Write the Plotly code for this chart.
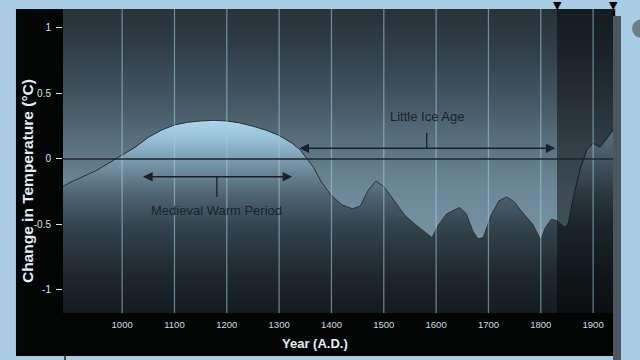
import plotly.graph_objects as go

# ---------------- data ----------------
YEARS = [887, 900, 950, 1000, 1025, 1050, 1075, 1100, 1125, 1150, 1175, 1200,
         1225, 1250, 1275, 1300, 1325, 1340, 1350, 1365, 1380, 1400, 1420,
         1440, 1455, 1470, 1485, 1500, 1520, 1540, 1560, 1580, 1592, 1605,
         1620, 1645, 1658, 1670, 1680, 1690, 1705, 1720, 1735, 1750, 1765,
         1785, 1800, 1808, 1820, 1830, 1845, 1852, 1862, 1875, 1888, 1900,
         1913, 1925, 1938]
TEMP_CHANGE = [-0.21, -0.18, -0.09, 0.03, 0.09, 0.165, 0.22, 0.26, 0.28, 0.29,
               0.295, 0.29, 0.275, 0.25, 0.22, 0.18, 0.12, 0.07, 0.02, -0.06,
               -0.17, -0.28, -0.35, -0.38, -0.36, -0.24, -0.17, -0.21, -0.32,
               -0.43, -0.50, -0.56, -0.60, -0.50, -0.42, -0.37, -0.42, -0.55,
               -0.61, -0.60, -0.43, -0.32, -0.29, -0.33, -0.41, -0.50, -0.62,
               -0.53, -0.46, -0.47, -0.52, -0.50, -0.30, -0.08, 0.07, 0.12,
               0.09, 0.15, 0.22]
X_TICKS = [1000, 1100, 1200, 1300, 1400, 1500, 1600, 1700, 1800, 1900]
X_TICK_TEXT = ["1000", "1100", "1200", "1300", "1400", "1500", "1600", "1700", "1800", "1900"]
Y_TICKS = [1, 0.5, 0, -0.5, -1]
Y_TICK_TEXT = ["1", "0.5", "0", "-0.5", "-1"]
MWP_SPAN = [1037, 1325]          # Medieval Warm Period
LIA_SPAN = [1336, 1828]          # Little Ice Age
INSTRUMENTAL_BAND = [1831, 1938]
X_RANGE = [887, 1938]
Y_RANGE = [-1.176, 1.145]

# ---------------- figure ----------------
fig = go.Figure()
n = len(YEARS)

fig.add_trace(go.Scatter(x=YEARS, y=[Y_RANGE[0]] * n, mode="lines",
                         line=dict(width=0, color="rgba(0,0,0,0)"),
                         hoverinfo="skip", showlegend=False))
fig.add_trace(go.Scatter(
    x=YEARS, y=TEMP_CHANGE, mode="lines", fill="tonexty",
    line=dict(width=1, color="#2a363e"),
    fillgradient=dict(type="vertical", start=Y_RANGE[0], stop=0.31,
                      colorscale=[[0.0, "#151b1f"], [0.2, "#1f282e"],
                                  [0.45, "#34444e"], [0.6, "#4c626f"],
                                  [0.78, "#7899ac"], [0.9, "#98c2d8"],
                                  [1.0, "#afd8ef"]]),
    hoverinfo="skip", showlegend=False))
fig.add_trace(go.Scatter(
    x=YEARS, y=[Y_RANGE[1]] * n, mode="lines", fill="tonexty",
    line=dict(width=0, color="rgba(0,0,0,0)"),
    fillgradient=dict(type="vertical", start=-0.7, stop=Y_RANGE[1],
                      colorscale=[[0.0, "#7a96a6"], [0.25, "#6c8898"],
                                  [0.45, "#58707e"], [0.65, "#40535e"],
                                  [0.85, "#2f3d46"], [1.0, "#273239"]]),
    hoverinfo="skip", showlegend=False))

shapes = []
# black panel around the plot
shapes.append(dict(type="rect", xref="paper", yref="paper", x0=-0.0855, x1=1.004,
                   y0=-0.1414, y1=1.0, fillcolor="#030505", line=dict(width=0),
                   layer="below"))
# grey strip on the right
shapes.append(dict(type="rect", xref="paper", yref="paper", x0=1.0, x1=1.0145,
                   y0=-0.155, y1=0.977, fillcolor="#4a5660", line=dict(width=0),
                   layer="below"))
# grey blob at far right
shapes.append(dict(type="circle", xref="paper", yref="paper", x0=1.0345, x1=1.07,
                   y0=0.905, y1=0.966, fillcolor="#6e7e88", line=dict(width=0),
                   layer="below"))
# dark instrumental band
shapes.append(dict(type="rect", xref="x", yref="paper", x0=INSTRUMENTAL_BAND[0],
                   x1=INSTRUMENTAL_BAND[1], y0=0, y1=1, fillcolor="black",
                   opacity=0.45, line=dict(width=0), layer="above"))
# vertical grid lines
for xv in X_TICKS:
    shapes.append(dict(type="line", xref="x", yref="paper", x0=xv, x1=xv, y0=0, y1=1,
                       line=dict(color="rgba(160,205,230,0.55)", width=1.3),
                       layer="above"))
# zero line
shapes.append(dict(type="line", xref="paper", yref="y", x0=0, x1=1, y0=0, y1=0,
                   line=dict(color="#1c262c", width=1.5), layer="above"))
# vertical ticks of the period arrows
mwp_mid = (MWP_SPAN[0] + MWP_SPAN[1]) / 2
lia_mid = (LIA_SPAN[0] + LIA_SPAN[1]) / 2
shapes.append(dict(type="line", xref="x", yref="y", x0=mwp_mid, x1=mwp_mid,
                   y0=-0.136, y1=-0.29, line=dict(color="#1a2228", width=1.3),
                   layer="above"))
shapes.append(dict(type="line", xref="x", yref="y", x0=lia_mid, x1=lia_mid,
                   y0=0.082, y1=0.2, line=dict(color="#1a2228", width=1.3),
                   layer="above"))
# small mark at bottom-left
shapes.append(dict(type="line", xref="paper", yref="paper", x0=0.0036, x1=0.0036,
                   y0=-0.138, y1=-0.155, line=dict(color="#222", width=1.5)))

annotations = []
# double-headed arrows
annotations.append(dict(x=MWP_SPAN[1], y=-0.136, ax=MWP_SPAN[0], ay=-0.136,
                        xref="x", yref="y", axref="x", ayref="y", text="",
                        showarrow=True, arrowhead=2, arrowside="end+start",
                        arrowsize=1.2, arrowwidth=1.6, arrowcolor="#1a2228"))
annotations.append(dict(x=LIA_SPAN[1], y=0.082, ax=LIA_SPAN[0], ay=0.082,
                        xref="x", yref="y", axref="x", ayref="y", text="",
                        showarrow=True, arrowhead=2, arrowside="end+start",
                        arrowsize=1.2, arrowwidth=1.6, arrowcolor="#1a2228"))
annotations.append(dict(x=mwp_mid, y=-0.39, xref="x", yref="y",
                        text="Medieval Warm Period", showarrow=False,
                        xanchor="center", yanchor="middle",
                        font=dict(family="Liberation Sans, Arial", size=13, color="#1a2228")))
annotations.append(dict(x=lia_mid, y=0.325, xref="x", yref="y",
                        text="Little Ice Age", showarrow=False,
                        xanchor="center", yanchor="middle",
                        font=dict(family="Liberation Sans, Arial", size=13, color="#1a2228")))
# axis titles
annotations.append(dict(x=-0.0655, y=0.434, xref="paper", yref="paper",
                        xanchor="center", yanchor="middle",
                        text="<b>Change in Temperature (°C)</b>", textangle=-90,
                        showarrow=False,
                        font=dict(family="Liberation Sans, Arial", size=15.5, color="#e4eef4")))
annotations.append(dict(x=0.458, y=-0.0987, xref="paper", yref="paper",
                        xanchor="center", yanchor="middle",
                        text="<b>Year (A.D.)</b>", showarrow=False,
                        font=dict(family="Liberation Sans, Arial", size=13, color="#e4eef4")))
# markers at band edges on top
for xv in INSTRUMENTAL_BAND:
    annotations.append(dict(x=xv, y=1.0, xref="x", yref="paper", yanchor="bottom",
                            yshift=-5, text="▼", showarrow=False,
                            font=dict(family="DejaVu Sans", size=11, color="black")))

fig.update_layout(
    width=640, height=360,
    margin=dict(l=63, r=27, t=9, b=47),
    paper_bgcolor="#a8cde4",
    plot_bgcolor="#3e515c",
    showlegend=False,
    shapes=shapes,
    annotations=annotations,
    xaxis=dict(range=X_RANGE, tickvals=X_TICKS, ticktext=X_TICK_TEXT,
               showgrid=False, zeroline=False, showline=False, ticks="",
               ticklabelstandoff=4,
               tickfont=dict(family="Liberation Sans, Arial", size=9.5, color="#cfdce4")),
    yaxis=dict(range=Y_RANGE, tickvals=Y_TICKS, ticktext=Y_TICK_TEXT,
               showgrid=False, zeroline=False, showline=False,
               ticks="outside", ticklen=6, tickwidth=1.2, tickcolor="#dfe8ee",
               ticklabelstandoff=3,
               tickfont=dict(family="Liberation Sans, Arial", size=10, color="#d8e4ea")),
)

fig.write_html("out.html")
